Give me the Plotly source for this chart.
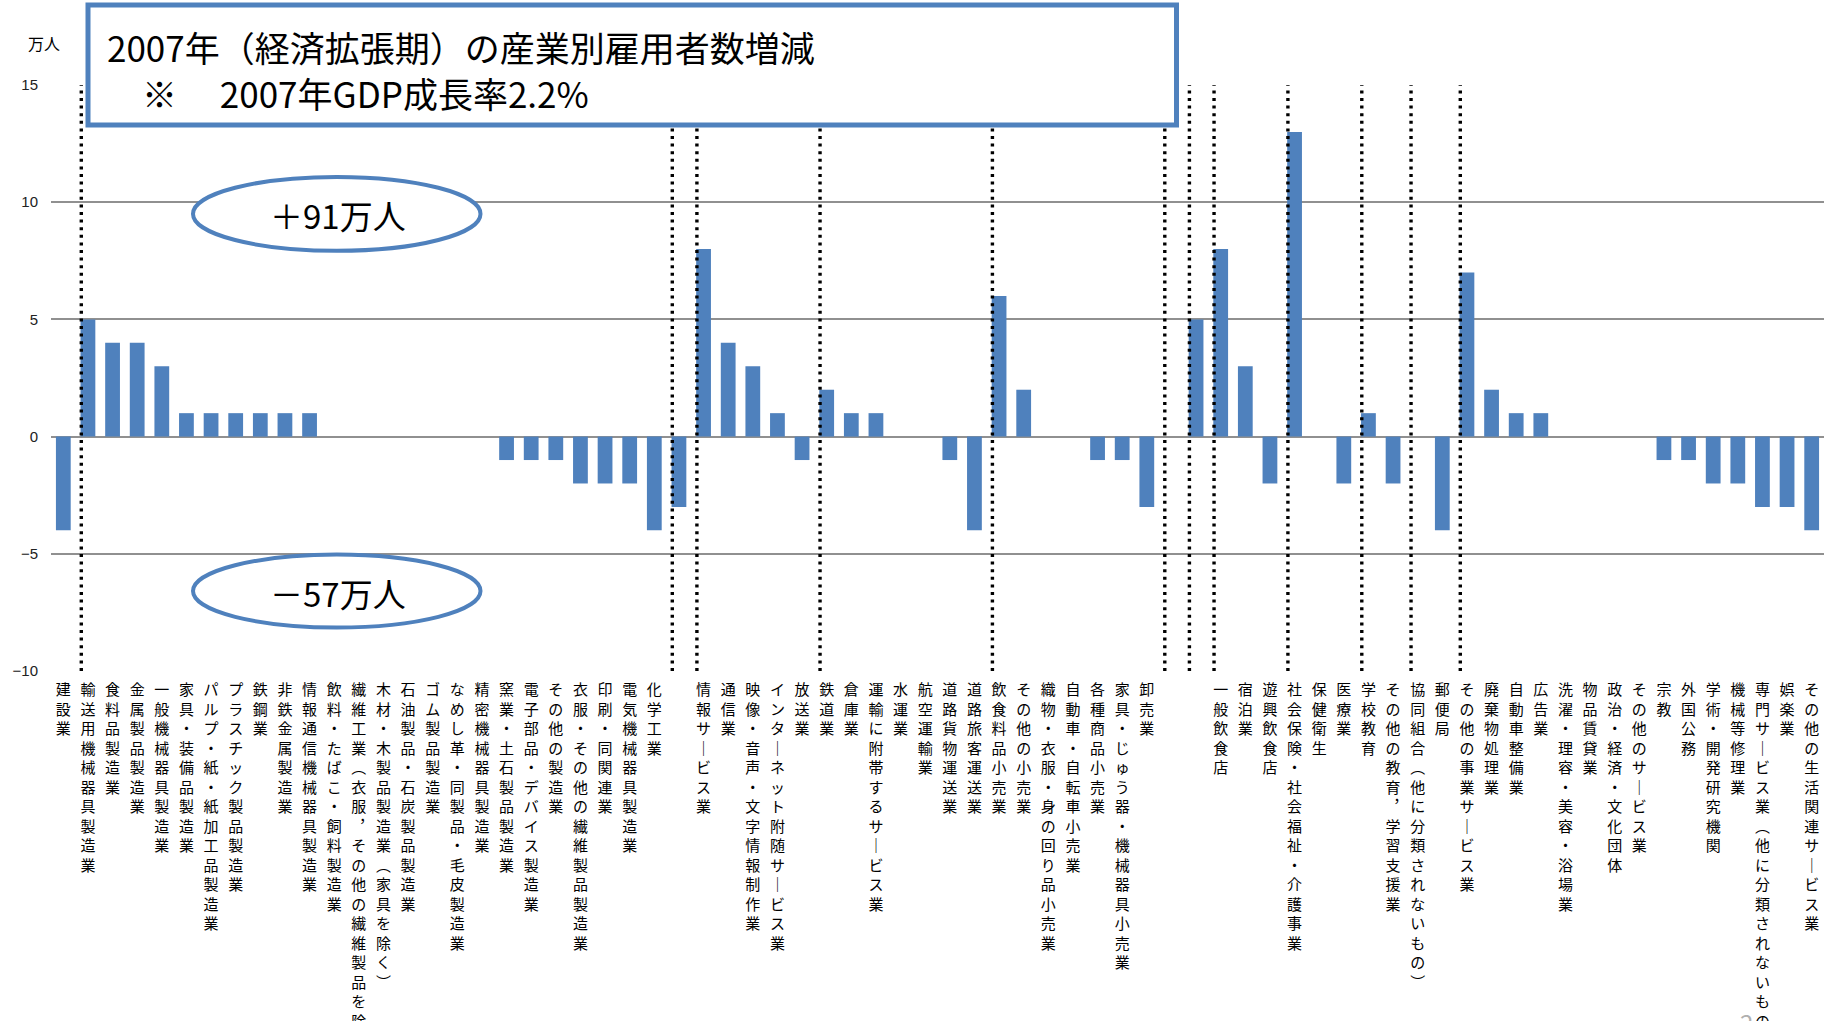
import plotly.graph_objects as go

# ---------------- data ----------------
categories = [
    "建設業", "輸送用機械器具製造業", "食料品製造業", "金属製品製造業", "一般機械器具製造業",
    "家具・装備品製造業", "パルプ・紙・紙加工品製造業", "プラスチック製品製造業", "鉄鋼業", "非鉄金属製造業",
    "情報通信機械器具製造業", "飲料・たばこ・飼料製造業", "繊維工業（衣服，その他の繊維製品を除く）",
    "木材・木製品製造業（家具を除く）", "石油製品・石炭製品製造業", "ゴム製品製造業", "なめし革・同製品・毛皮製造業",
    "精密機械器具製造業", "窯業・土石製品製造業", "電子部品・デバイス製造業", "その他の製造業",
    "衣服・その他の繊維製品製造業", "印刷・同関連業", "電気機械器具製造業", "化学工業", "",
    "情報サービス業", "通信業", "映像・音声・文字情報制作業", "インターネット附随サービス業", "放送業",
    "鉄道業", "倉庫業", "運輸に附帯するサービス業", "水運業", "航空運輸業", "道路貨物運送業", "道路旅客運送業",
    "飲食料品小売業", "その他の小売業", "織物・衣服・身の回り品小売業", "自動車・自転車小売業", "各種商品小売業",
    "家具・じゅう器・機械器具小売業", "卸売業", "", "", "一般飲食店", "宿泊業", "遊興飲食店",
    "社会保険・社会福祉・介護事業", "保健衛生", "医療業", "学校教育", "その他の教育，学習支援業",
    "協同組合（他に分類されないもの）", "郵便局", "その他の事業サービス業", "廃棄物処理業", "自動車整備業",
    "広告業", "洗濯・理容・美容・浴場業", "物品賃貸業", "政治・経済・文化団体", "その他のサービス業",
    "宗教", "外国公務", "学術・開発研究機関", "機械等修理業", "専門サービス業（他に分類されないもの）",
    "娯楽業", "その他の生活関連サービス業",
]
values = [
    -4, 5, 4, 4, 3, 1, 1, 1, 1, 1, 1,
    0, 0, 0, 0, 0, 0, 0,
    -1, -1, -1, -2, -2, -2, -4, -3,
    8, 4, 3, 1, -1, 2, 1, 1, 0, 0, -1, -4,
    6, 2, 0, 0, -1, -1, -3,
    0, 5,
    8, 3, -2, 13, 0, -2, 1, -2, 0, -4,
    7, 2, 1, 1, 0, 0, 0, 0,
    -1, -1, -2, -2, -3, -3, -4,
]
group_starts = [1, 25, 26, 31, 38, 45, 46, 47, 50, 53, 55, 57]
y_ticks = [-10, -5, 0, 5, 10, 15]

title_line1 = "2007年（経済拡張期）の産業別雇用者数増減"
title_line2 = "　※　 2007年GDP成長率2.2%"
total_plus = "＋91万人"
total_minus = "－57万人"
unit_label = "万人"

# ---------------- layout constants ----------------
W, H = 1831, 1021
L, R, T, B = 51, 1824, 85, 671.5
BLUE = "#4f81bd"
FONT = "Noto Sans CJK JP"


def px(xp):
    return (xp - L) / (R - L)


def py(yp):
    return (B - yp) / (B - T)


VERT = {"ー": "｜", "（": "︵", "）": "︶", "，": "︐"}


def vertical(s):
    return "<br>".join(VERT.get(c, c) for c in s)


xs = list(range(len(categories)))

fig = go.Figure()
fig.add_trace(go.Bar(
    x=xs, y=values, marker=dict(color=BLUE, line=dict(width=0)),
    hoverinfo="skip", showlegend=False,
))

shapes = []
# dotted group separators
for g in group_starts:
    shapes.append(dict(
        type="line", xref="x", yref="y", x0=g - 0.27, x1=g - 0.27, y0=-10, y1=15,
        line=dict(color="black", width=3.4, dash="3px,4.6px"), layer="above",
    ))
# title box
shapes.append(dict(
    type="rect", xref="paper", yref="paper",
    x0=px(88), x1=px(1176.5), y0=py(125), y1=py(5),
    line=dict(color=BLUE, width=5), fillcolor="white", layer="above",
))
# ellipses
shapes.append(dict(
    type="circle", xref="paper", yref="paper",
    x0=px(193), x1=px(480.5), y0=py(251), y1=py(177),
    line=dict(color=BLUE, width=4), fillcolor="white", layer="above",
))
shapes.append(dict(
    type="circle", xref="paper", yref="paper",
    x0=px(193), x1=px(480.5), y0=py(628), y1=py(555),
    line=dict(color=BLUE, width=4), fillcolor="white", layer="above",
))

annotations = [
    dict(text=title_line1 + "<br>" + title_line2, xref="paper", yref="paper",
         x=px(105), y=py(69), xanchor="left", yanchor="middle", align="left",
         showarrow=False, font=dict(family=FONT, size=35, color="black")),
    dict(text=total_plus, xref="paper", yref="paper", x=px(338), y=py(215),
         xanchor="center", yanchor="middle", showarrow=False,
         font=dict(family=FONT, size=33, color="black")),
    dict(text=total_minus, xref="paper", yref="paper", x=px(338), y=py(593),
         xanchor="center", yanchor="middle", showarrow=False,
         font=dict(family=FONT, size=33, color="black")),
    dict(text=unit_label, xref="paper", yref="paper", x=px(44), y=py(43),
         xanchor="center", yanchor="middle", showarrow=False,
         font=dict(family=FONT, size=16, color="black")),
    dict(text="2", xref="paper", yref="paper", x=px(1746), y=py(1003),
         xanchor="center", yanchor="top", showarrow=False,
         font=dict(family=FONT, size=24, color="#b0b0b0")),
]

fig.update_layout(
    width=W, height=H,
    margin=dict(l=L, r=W - R, t=T, b=H - B, pad=0),
    paper_bgcolor="white", plot_bgcolor="white",
    bargap=0.4,
    font=dict(family=FONT, color="black"),
    shapes=shapes, annotations=annotations,
    showlegend=False,
)
fig.update_xaxes(
    range=[-0.5, len(categories) - 0.5],
    tickmode="array", tickvals=xs, ticktext=[vertical(c) for c in categories],
    tickangle=0, ticks="", showgrid=False, zeroline=False, showline=False,
    tickfont=dict(family=FONT, size=15, color="black"),
    automargin=False, ticklabelstandoff=8,
)
fig.update_yaxes(
    range=[-10, 15], tickmode="array", tickvals=y_ticks,
    ticktext=[str(v).replace("-", "−") for v in y_ticks],
    showgrid=True, gridcolor="#909090", gridwidth=2,
    zeroline=True, zerolinecolor="#909090", zerolinewidth=2,
    showline=False, ticks="",
    tickfont=dict(family="Liberation Sans", size=15, color="#222"),
    automargin=False, ticklabelstandoff=12,
)

fig.write_html("out.html")
